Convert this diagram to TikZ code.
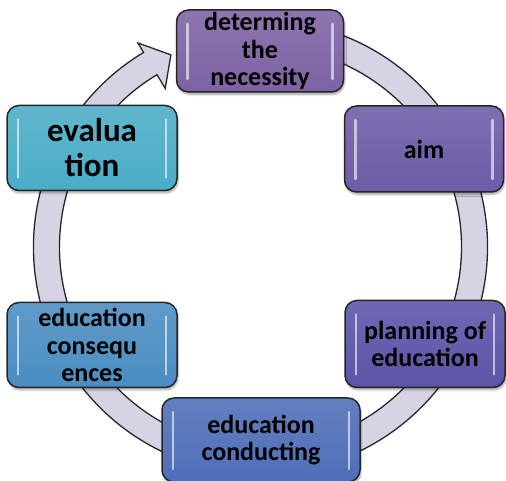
\documentclass[tikz,border=0pt]{standalone}
\usepackage{fontspec}
\setmainfont{Carlito}
\usetikzlibrary{shadows.blur}
\definecolor{needc}{HTML}{7E62A4}
\definecolor{aimc}{HTML}{6D5BA7}
\definecolor{planc}{HTML}{5B54A8}
\definecolor{condc}{HTML}{4F6EB8}
\definecolor{consc}{HTML}{4A8DC2}
\definecolor{evalc}{HTML}{4AADC6}
\definecolor{ringc}{HTML}{D7D3E5}
\newcommand{\boxtxt}{\fontsize{26}{27.5}\selectfont\bfseries}

\begin{document}
\begin{tikzpicture}[x=1pt,y=1pt,
  box/.style={rounded corners=12pt,draw=black!85,line width=1.5pt,
    top color=#1!88!white,bottom color=#1,inner sep=0pt,align=center,
    font=\boxtxt,
    blur shadow={shadow xshift=1pt,shadow yshift=-2.5pt,shadow opacity=35,shadow blur steps=6},
    path picture={
      \draw[white,opacity=.6,line width=2.5pt,line cap=round]
        ([xshift=11pt,yshift=-14pt]path picture bounding box.north west)
        -- ([xshift=11pt,yshift=13pt]path picture bounding box.south west)
        ([xshift=-11pt,yshift=-14pt]path picture bounding box.north east)
        -- ([xshift=-11pt,yshift=13pt]path picture bounding box.south east);}},
  ring/.style={fill=ringc,draw=black!85,line width=1.3pt,line join=miter}]
\useasboundingbox (0,0) rectangle (506,481);

% cycle arrow
\begin{scope}[shift={(260.5,234)}]
\filldraw[ring] (75:227) arc[start angle=75,end angle=-239,radius=227]
  -- (121:238) -- (115:212) -- (121:185) -- (121:201)
  arc[start angle=-239,end angle=75,radius=201] -- cycle;
\end{scope}

\node[box=needc,minimum width=167,minimum height=82] (need) at (260,430) {determing\\the\\necessity};
\node[box=aimc,minimum width=159,minimum height=86] (aim) at (424,332) {aim};
\node[box=planc,minimum width=160,minimum height=87] (plan) at (425,137) {planning of\\education};
\node[box=condc,minimum width=198,minimum height=84] (conduct) at (261,41) {education\\conducting};
\node[box=consc,minimum width=170,minimum height=85] (conseq) at (92,136) {education\\consequ\\ences};
\node[box=evalc,minimum width=170,minimum height=85,font=\fontsize{33}{35}\selectfont\bfseries] (eval) at (92,333) {evalua\\tion};
\end{tikzpicture}
\end{document}
